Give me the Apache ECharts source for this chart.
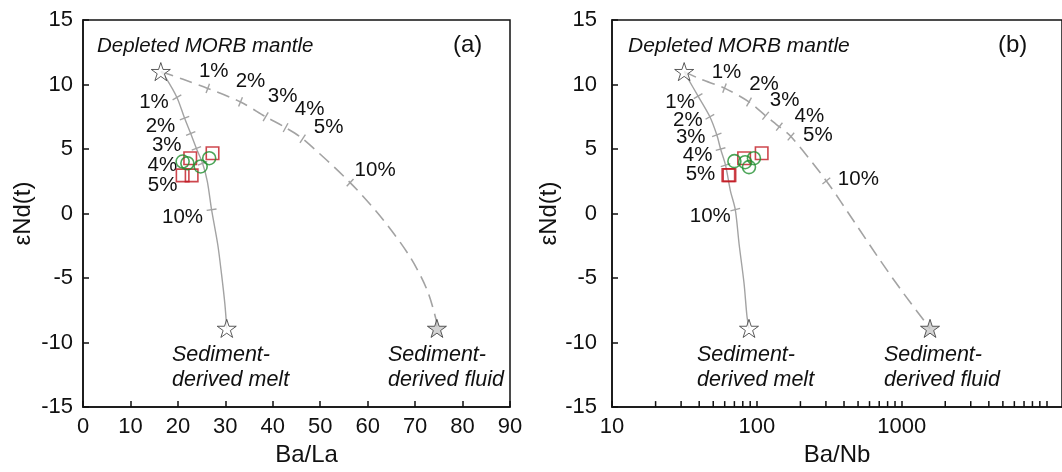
<!DOCTYPE html>
<html><head><meta charset="utf-8">
<script src="https://cdn.jsdelivr.net/npm/echarts@6/dist/echarts.min.js"></script>
<style>html,body{margin:0;padding:0;background:#fff}#c{width:1062px;height:472px}</style>
</head><body><div id="c"></div>
<script>
// ---------- DATA ----------
const pctLabels = ['1%', '2%', '3%', '4%', '5%', '10%'];
const yTickValues = [-15, -10, -5, 0, 5, 10, 15];

// Panel (a): Ba/La vs eNd(t)
const aDMM = [16.4, 11.0];
const aMelt = [30.3, -8.9];
const aFluid = [74.6, -8.9];
const aMeltCurve = [[16.4, 11.0], [17.5, 10.5], [19.8, 9.0], [21.4, 7.4], [22.7, 6.2], [23.9, 5.05], [25.2, 3.9], [26.2, 2.5], [27.1, 0.3], [28.4, -2.4], [29.2, -4.7], [29.9, -7.0], [30.3, -8.9]];
const aFluidCurve = [[16.4, 11.0], [21.1, 10.4], [26.3, 9.7], [33.2, 8.65], [38.5, 7.5], [42.7, 6.66], [46.3, 5.8], [56.3, 2.4], [63.3, -0.5], [69.0, -3.4], [72.5, -5.9], [74.4, -8.2], [74.6, -8.9]];
const aMeltTicks = [[19.8, 9.0], [21.4, 7.4], [22.7, 6.2], [23.9, 5.05], [25.2, 3.9], [27.1, 0.3]];
const aFluidTicks = [[26.3, 9.7], [33.2, 8.65], [38.5, 7.5], [42.7, 6.66], [46.3, 5.8], [56.3, 2.4]];
const aSquares = [[27.3, 4.67], [22.6, 4.29], [21.0, 2.96], [22.9, 2.96]];
const aCircles = [[21.0, 4.03], [22.0, 3.9], [24.8, 3.65], [26.6, 4.29]];

// Panel (b): Ba/Nb (log) vs eNd(t)
const bDMM = [31.5, 11.0];
const bMelt = [88.3, -8.9];
const bFluid = [1570, -8.9];
const bMeltCurve = [[31.5, 11.0], [33.7, 10.4], [39.3, 9.1], [47.4, 7.5], [52.9, 6.1], [56.2, 5.0], [60.8, 3.75], [65.7, 1.76], [71.0, 0.3], [75.5, -2.4], [81.6, -5.4], [85.5, -7.96], [88.3, -8.9]];
const bFluidCurve = [[31.5, 11.0], [41.2, 10.4], [59.8, 9.72], [88.3, 8.65], [115, 7.58], [143, 6.73], [172, 5.97], [302, 2.53], [474, -0.69], [700, -3.52], [1033, -6.2], [1570, -8.9]];
const bMeltTicks = [[39.3, 9.1], [47.4, 7.5], [52.9, 6.1], [56.2, 5.0], [60.8, 3.75], [71.0, 0.3]];
const bFluidTicks = [[59.8, 9.72], [88.3, 8.65], [115, 7.58], [143, 6.73], [172, 5.97], [302, 2.53]];
const bSquares = [[108, 4.67], [81.7, 4.29], [63.6, 2.98], [64.7, 2.98]];
const bCircles = [[70.0, 4.06], [83.0, 3.98], [88.3, 3.6], [95.5, 4.29]];
const bMinorTicks = [20, 30, 40, 50, 60, 70, 80, 90, 200, 300, 400, 500, 600, 700, 800, 900, 2000, 3000, 4000, 5000, 6000, 7000, 8000, 9000];

// ---------- LAYOUT / STYLE ----------
const FONT = '"Liberation Sans", Arial, sans-serif';
const INK = '#111';
const CURVE = '#a3a3a3';
const RED = '#c01820';
const GREEN = '#1f8f2e';
const STAR = 'path://M50,0 L61.23,34.55 L97.55,34.55 L68.17,55.9 L79.39,90.45 L50,69.1 L20.61,90.45 L31.83,55.9 L2.45,34.55 L38.77,34.55 Z';
const offAMelt = [[-23, 5], [-24, 8], [-24, 12], [-34, 17], [-40, 22], [-29, 8]];
const offAFluid = [[6, -17], [10, -21], [17, -20], [24, -18], [26, -11], [25, -12]];
const offBMelt = [[-18, 6], [-22, 4], [-26, 3], [-23, 6], [-25, 9], [-25, 7]];
const offBFluid = [[2, -16], [15, -18], [19, -15], [30, -10], [27, -1], [32, -2]];

const chart = echarts.init(document.getElementById('c'), null, {renderer: 'canvas'});

function curveSeries(data, gi, dashed) {
  return {
    type: 'line', xAxisIndex: gi, yAxisIndex: gi, data: data, showSymbol: false, smooth: 0.3,
    lineStyle: {color: CURVE, width: dashed ? 1.6 : 1.4, type: dashed ? [13, 7] : 'solid'},
    silent: true, z: 2
  };
}

function tickSeries(ticks, curve, offs, gi) {
  return {
    type: 'custom', coordinateSystem: 'cartesian2d', xAxisIndex: gi, yAxisIndex: gi,
    data: ticks, z: 3, silent: true,
    renderItem: function (params, api) {
      const p = api.coord([api.value(0), api.value(1)]);
      const pts = curve.map(c => api.coord(c));
      let best = 1e9, dx = 0, dy = 1;
      for (let i = 0; i < pts.length - 1; i++) {
        const ax = pts[i][0], ay = pts[i][1], bx = pts[i + 1][0], by = pts[i + 1][1];
        const vx = bx - ax, vy = by - ay, L2 = vx * vx + vy * vy || 1;
        let t = ((p[0] - ax) * vx + (p[1] - ay) * vy) / L2; t = Math.max(0, Math.min(1, t));
        const qx = ax + t * vx - p[0], qy = ay + t * vy - p[1];
        const d = qx * qx + qy * qy;
        if (d < best) { best = d; const L = Math.sqrt(L2); dx = vx / L; dy = vy / L; }
      }
      const nx = -dy * 5, ny = dx * 5;
      const o = offs[params.dataIndex];
      return {
        type: 'group', children: [
          {type: 'line', shape: {x1: p[0] - nx, y1: p[1] - ny, x2: p[0] + nx, y2: p[1] + ny},
            style: {stroke: CURVE, lineWidth: 1.4}},
          {type: 'text', x: p[0] + o[0], y: p[1] + o[1],
            style: {text: pctLabels[params.dataIndex], font: '20.5px ' + FONT, fill: INK, textAlign: 'center', textVerticalAlign: 'middle'}}
        ]
      };
    }
  };
}

function pointSeries(data, gi, shape) {
  const sq = shape === 'rect';
  return {
    type: 'scatter', xAxisIndex: gi, yAxisIndex: gi, data: data, symbol: shape,
    symbolSize: sq ? 12.5 : 13, z: sq ? 4 : 5,
    itemStyle: {color: 'rgba(0,0,0,0)', borderColor: sq ? RED : GREEN, borderWidth: 1.6}
  };
}

function starSeries(data, gi, fill) {
  return {
    type: 'scatter', xAxisIndex: gi, yAxisIndex: gi, data: [data], symbol: STAR,
    symbolSize: 19, symbolKeepAspect: true, z: 6,
    itemStyle: {color: fill, borderColor: '#333', borderWidth: 1}
  };
}

function yAxisCfg(gi, margin) {
  return {
    gridIndex: gi, type: 'value', min: yTickValues[0], max: yTickValues[yTickValues.length - 1], interval: 5,
    axisLine: {show: true, onZero: false, lineStyle: {color: INK, width: 1.5}},
    axisTick: {show: true, inside: true, length: 6, lineStyle: {color: INK, width: 1.5}},
    axisLabel: {fontSize: 22, color: INK, fontFamily: FONT, margin: margin},
    splitLine: {show: false},
    name: 'εNd(t)', nameLocation: 'middle', nameGap: 48,
    nameTextStyle: {fontSize: 24, color: INK, fontFamily: FONT}
  };
}

const txt = (x, y, s, size, italic) => ({
  type: 'text', x: x, y: y, z: 100,
  style: {text: s, font: (italic ? 'italic ' : '') + size + 'px ' + FONT, fill: INK, textVerticalAlign: 'middle'}
});

chart.setOption({
  animation: false,
  grid: [
    {left: 83, top: 20, width: 427, height: 392, show: true, borderColor: INK, borderWidth: 1.5, backgroundColor: 'transparent'},
    {left: 612, top: 20, width: 460, height: 392, show: true, borderColor: INK, borderWidth: 1.5, backgroundColor: 'transparent'}
  ],
  xAxis: [
    {gridIndex: 0, type: 'value', min: 0, max: 90, interval: 10,
      axisLine: {onZero: false, lineStyle: {color: INK, width: 1.5}},
      axisTick: {inside: true, length: 6, lineStyle: {color: INK, width: 1.5}},
      axisLabel: {fontSize: 22, color: INK, fontFamily: FONT, margin: 9},
      splitLine: {show: false},
      name: 'Ba/La', nameLocation: 'middle', nameGap: 35,
      nameTextStyle: {fontSize: 24, color: INK, fontFamily: FONT, padding: [0, 0, 0, 20]}},
    {gridIndex: 1, type: 'log', logBase: 10, min: 10, max: 12800,
      axisLine: {onZero: false, lineStyle: {color: INK, width: 1.5}},
      axisTick: {inside: true, length: 6, lineStyle: {color: INK, width: 1.5}},
      axisLabel: {fontSize: 22, color: INK, fontFamily: FONT, margin: 9, showMaxLabel: false,
        formatter: v => (Math.round(v) >= 10000 ? '' : String(Math.round(v)))},
      splitLine: {show: false},
      name: 'Ba/Nb', nameLocation: 'middle', nameGap: 35,
      nameTextStyle: {fontSize: 24, color: INK, fontFamily: FONT}}
  ],
  yAxis: [yAxisCfg(0, 10), yAxisCfg(1, 15)],
  series: [
    curveSeries(aMeltCurve, 0, false), curveSeries(aFluidCurve, 0, true),
    tickSeries(aMeltTicks, aMeltCurve, offAMelt, 0), tickSeries(aFluidTicks, aFluidCurve, offAFluid, 0),
    pointSeries(aSquares, 0, 'rect'), pointSeries(aCircles, 0, 'circle'),
    starSeries(aDMM, 0, '#fff'), starSeries(aMelt, 0, '#fff'), starSeries(aFluid, 0, '#c8c8c8'),
    curveSeries(bMeltCurve, 1, false), curveSeries(bFluidCurve, 1, true),
    tickSeries(bMeltTicks, bMeltCurve, offBMelt, 1), tickSeries(bFluidTicks, bFluidCurve, offBFluid, 1),
    pointSeries(bSquares, 1, 'rect'), pointSeries(bCircles, 1, 'circle'),
    starSeries(bDMM, 1, '#fff'), starSeries(bMelt, 1, '#fff'), starSeries(bFluid, 1, '#c8c8c8'),
    {type: 'custom', coordinateSystem: 'cartesian2d', xAxisIndex: 1, yAxisIndex: 1, silent: true, z: 7,
      data: bMinorTicks.map(v => [v]),
      renderItem: function (params, api) {
        const p = api.coord([api.value(0), yTickValues[0]]);
        return {type: 'line', shape: {x1: p[0], y1: p[1], x2: p[0], y2: p[1] - 6}, style: {stroke: INK, lineWidth: 1.5}};
      }}
  ],
  graphic: [
    txt(97, 46, 'Depleted MORB mantle', 20.5, true),
    txt(453, 45, '(a)', 24, false),
    txt(172, 355, 'Sediment-', 21.5, true), txt(172, 380, 'derived melt', 21.5, true),
    txt(388, 355, 'Sediment-', 21.5, true), txt(388, 380, 'derived fluid', 21.5, true),
    txt(628, 46, 'Depleted MORB mantle', 21, true),
    txt(998, 45, '(b)', 24, false),
    txt(697, 355, 'Sediment-', 21.5, true), txt(697, 380, 'derived melt', 21.5, true),
    txt(884, 355, 'Sediment-', 21.5, true), txt(884, 380, 'derived fluid', 21.5, true)
  ]
});
</script></body></html>
